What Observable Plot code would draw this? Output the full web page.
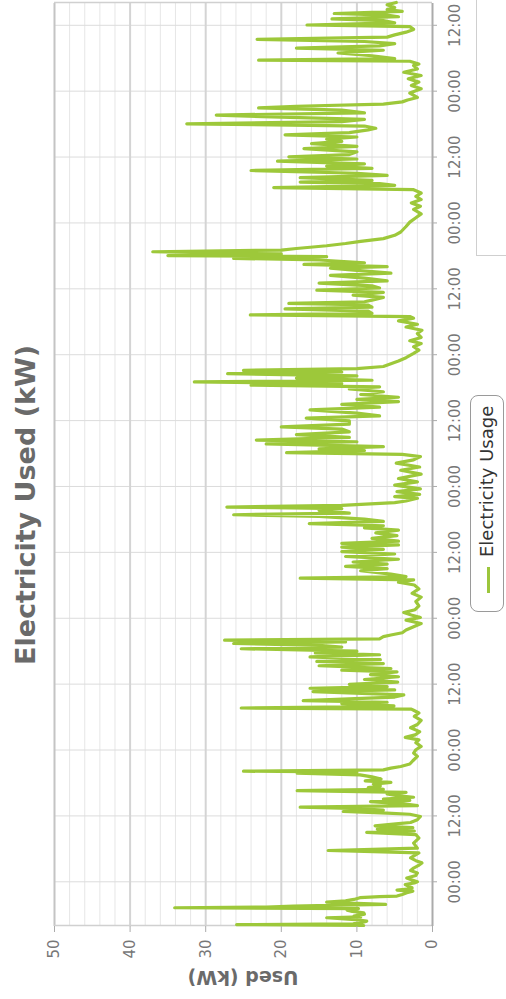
<!DOCTYPE html>
<html><head><meta charset="utf-8">
<script src="https://cdn.jsdelivr.net/npm/d3@7"></script>
<script src="https://cdn.jsdelivr.net/npm/@observablehq/plot@0.6"></script>
<style>
html,body{margin:0;padding:0;background:#fff;overflow:hidden;width:506px;height:999px;}
#frame{position:absolute;left:0;top:0;width:999px;height:506px;transform-origin:0 0;transform:translate(0px,999px) rotate(-90deg);font-family:"DejaVu Sans",sans-serif;overflow:hidden;background:#fff;}
#chart{position:absolute;left:0;top:0;}
#title{position:absolute;left:0;width:988px;top:12px;line-height:27px;text-align:center;font-weight:bold;font-size:27px;color:#6a6a6a;white-space:nowrap;}
#ylabel{position:absolute;left:21px;top:243px;transform:translate(-50%,-50%) rotate(-90deg);font-weight:bold;font-size:19px;color:#6a6a6a;white-space:nowrap;}
#legend{position:absolute;left:387px;top:470px;width:217px;height:34px;box-sizing:border-box;border:1.5px solid #9a9a9a;border-radius:8px;background:#fff;}
#legend .sw{position:absolute;left:18px;top:16px;width:26px;height:3px;background:#9cc63c;}
#legend .lt{position:absolute;left:54px;top:0;line-height:31px;font-size:18px;color:#333;white-space:nowrap;}
#box{position:absolute;left:743px;top:476px;width:400px;height:100px;border:1px solid #cfcfcf;}
</style></head><body>
<div id="frame">
  <div id="chart"></div>
  <div id="title">Electricity Used (kW)</div>
  <div id="ylabel">Used (kW)</div>
  <div id="legend"><span class="sw"></span><span class="lt" id="legendText"></span></div>
  <div id="box"></div>
</div>
<script>
// Hours after the first midnight shown on the axis, and electricity used (kW)
const seriesName = "Electricity Usage";
const firstMidnight = Date.UTC(2013, 2, 4);
const seg0 = [[-7.96,9.1],[-7.8,25.9],[-7.65,10.5],[-7.4,9.3],[-7.17,8.7],[-6.9,10.2],[-6.55,14.0],[-6.4,9.5],[-6.25,10.4],[-5.9,9.0],[-5.64,9.1],[-5.4,10.6],[-5.16,11.3],[-4.9,9.8],[-4.73,34.1],[-4.6,22],[-4.43,18.4],[-4.25,12],[-4.12,6.2],[-3.9,11],[-3.7,14],[-3.45,11.5],[-3.21,10.4],[-2.9,9.6],[-2.7,7],[-2.6,4.7],[-2.3,4.0],[-2.0,3.4],[-1.7,2.6],[-1.5,4.7],[-1.3,3.0],[-1.1,2.7],[-0.8,3.2],[-0.5,3.6],[-0.2,2.4],[0.0,2.0],[0.35,2.8],[0.7,3.4],[1.15,2.2],[1.6,2.0],[2.05,2.9],[2.5,2.5],[2.95,1.9],[3.45,1.4],[3.85,2.2],[4.35,2.9],[4.85,2.3],[5.25,1.8]];
const seg1 = [[5.7,13.8],[6.13,2.0],[7.05,2.5],[7.97,1.8],[8.58,2.2],[9.0,8.7],[9.25,2.4],[9.6,7.3],[9.85,2.6],[10.2,7.6],[10.58,4.5],[10.8,2.9],[11.3,2.0],[11.9,1.6],[12.3,3.0],[12.5,6.0],[12.8,11.8],[13.07,6.5],[13.3,9.5],[13.6,17.5],[13.87,2.0],[14.2,3.8],[14.6,8.2],[14.84,3.0],[15.08,6.5],[15.4,2.5],[15.7,4.7],[16.0,6.0],[16.3,3.5],[16.6,17.9],[16.85,6.5],[17.16,8.5],[17.46,6.9],[17.77,7.8],[18.1,5.5],[18.37,8.9],[18.73,6.8],[19.1,8.0],[19.47,9.6],[19.77,17.9],[19.95,10],[20.15,25.0],[20.39,6.5],[20.7,5.5],[21.0,4.2],[21.45,3.0],[22.05,2.6],[22.85,2.0],[23.45,2.5],[24.05,2.2],[24.65,1.5],[25.35,2.2],[25.85,1.8],[26.3,3.6],[26.75,2.3],[27.35,1.7],[28.05,2.9],[28.65,2.0],[29.4,1.5],[30.15,2.4],[30.75,1.8],[31.25,2.5],[31.45,2.8],[31.65,25.3],[31.9,8],[32.05,5.1],[32.45,12],[32.7,6],[33.0,17.1]];
const seg2 = [[33.65,5.0],[34.05,3.8],[34.65,15.8],[34.95,5.0],[35.25,16.2],[35.55,6],[35.95,11],[36.35,4.6],[36.85,9],[37.35,4.5],[37.75,8.2],[38.25,4.7],[38.55,12],[38.85,5.5],[39.35,15],[39.75,6.5],[40.15,15.3],[40.45,6.9],[40.95,16.2],[41.35,7],[41.7,15.5],[42.0,10],[42.45,25.3],[42.75,12],[43.05,15],[43.4,26.3],[43.7,11.5],[44.0,27.5],[44.25,7],[44.65,6.5],[44.95,5.5],[45.35,4.0],[45.85,3.5],[46.45,2.5],[47.05,1.5],[47.65,3.5],[48.15,1.6],[48.6,2.8],[49.05,3.8],[49.55,2.3],[50.25,1.8],[51.05,2.2],[51.85,1.5],[52.55,2.7],[53.35,1.8],[54.05,2.4],[54.55,4.5],[55.0,2.5],[55.3,17.5],[55.6,3.5],[56.05,5.5],[56.65,9.5],[57.05,6.0],[57.45,11.5],[57.85,6.0],[58.25,10.5],[58.75,4.5],[59.25,11.5],[59.7,5],[60.15,12],[60.55,6.5],[60.95,12.0],[61.35,4.5],[61.65,12.0],[62.05,4.5],[62.55,8],[63.05,4.7],[63.55,7.5],[64.05,4.5],[64.45,9],[64.85,6.5],[65.25,16.3],[65.65,6.5],[66.05,9],[66.55,15],[66.85,26.3],[67.15,11],[67.65,15],[67.95,12],[68.25,27.2],[68.55,12],[69.05,5],[69.35,3.5]];
const seg3 = [[69.85,2.0],[70.15,5.0],[70.55,1.7],[71.05,4.7],[71.55,1.6],[72.25,5.0],[72.85,2.0],[73.45,4.5],[74.25,1.5],[74.95,4.2],[75.55,1.7],[76.25,4.8],[76.85,2.5],[77.45,1.6],[77.85,4],[78.15,19.3],[78.55,9],[78.85,15],[79.25,6.5],[79.75,22],[80.15,10],[80.45,23.3],[80.95,11],[81.45,18],[81.95,11],[82.45,12],[82.85,20],[83.35,11],[83.95,11],[84.45,16.7],[84.85,7],[85.35,10],[85.95,16.2],[86.45,7],[86.95,12],[87.45,4.5],[87.85,10],[88.25,4.5],[88.75,9.5],[89.25,6.5],[89.75,11],[90.15,7],[90.45,24],[90.75,12],[91.05,31.5],[91.35,8],[91.75,18],[92.15,10],[92.55,27.1],[92.85,12],[93.15,25],[93.45,10],[93.85,6.5],[94.35,5.5],[94.85,4.5],[95.45,3.5],[96.25,2.5],[96.85,1.8],[97.45,2.5],[98.05,1.5],[98.55,3.0],[99.15,1.5],[99.85,2.0],[100.45,1.4],[101.05,3.5],[101.55,2.0],[102.15,4.5],[102.65,2.5],[102.95,3],[103.25,24.1],[103.55,8],[103.95,8.5],[104.35,19.5],[104.65,8],[105.05,8.5],[105.35,19.0],[105.65,9],[105.95,8]];
const seg4 = [[106.45,6.5],[106.85,10.5],[107.35,6.5],[107.75,15.3],[108.15,7],[108.55,8],[109.05,15.0],[109.45,6],[109.95,9],[110.45,13.5],[110.85,5.5],[111.35,10],[111.75,13.5],[112.05,6],[112.45,17],[112.75,9],[113.25,15],[113.55,26.3],[113.85,14],[114.05,35],[114.35,20],[114.75,37],[115.05,20],[115.35,18],[115.85,14],[116.25,11.5],[116.65,9.5],[117.15,6.5],[117.75,5],[118.35,4.2],[119.35,3.5],[120.15,3.0],[120.95,2.2],[121.65,1.5],[122.45,2.5],[123.05,1.6],[123.65,2.8],[124.25,1.5],[124.85,2.2],[125.45,1.5],[126.05,2.5],[126.45,21],[126.85,5],[127.15,7],[127.45,17.5],[127.75,8],[128.25,17.5],[128.65,6],[129.05,10],[129.55,24],[129.95,8],[130.35,14],[130.75,9],[131.25,20.5],[131.65,10],[132.05,19],[132.45,11],[132.95,10],[133.55,17],[133.95,10],[134.45,16],[134.85,12],[135.25,14],[135.65,10],[136.05,19.5],[136.45,11],[136.95,8.5],[137.25,7.5],[137.65,9],[138.05,32.5],[138.45,12],[138.85,9],[139.35,22.5],[139.65,28.6],[140.05,9],[140.55,12],[140.95,23],[141.25,18],[141.65,6.5],[142.05,4],[142.4,3.3]];
const seg5 = [[142.85,2.0],[143.65,3.0],[144.45,1.5],[145.05,2.8],[145.65,1.8],[146.25,3.2],[146.85,1.5],[147.45,3.8],[148.05,2.0],[148.65,2.5],[148.95,1.8],[149.45,3.0],[149.65,23],[149.95,5],[150.45,8],[150.95,12.5],[151.45,6.5],[151.85,18],[152.25,7],[152.65,5],[153.05,9],[153.45,23.2],[153.85,6],[154.25,5],[154.75,3.5],[155.25,2.5],[155.75,3],[156.05,16.6],[156.45,5],[156.85,6.5],[157.15,13.3],[157.55,4.5],[157.85,6],[158.15,13.0],[158.55,4],[158.85,6],[159.25,5],[159.75,6.0],[160.15,4.8]];

const tickHours = [0,12,24,36,48,60,72,84,96,108,120,132,144,156];
const tickLabels = ["00:00","12:00","00:00","12:00","00:00","12:00","00:00","12:00","00:00","12:00","00:00","12:00","00:00","12:00"];
const valueTicks = [0,10,20,30,40,50];
const minorValues = [2,4,6,8,12,14,16,18,22,24,26,28,32,34,36,38,42,44,46,48];

const toDate = h => new Date(firstMidnight + h * 3600e3);
const data = [...seg0, ...seg1, ...seg2, ...seg3, ...seg4, ...seg5].map(([h, kw]) => ({time: toDate(h), kw}));
const tickDates = tickHours.map(toDate);
const t0 = data[0].time, t1 = data[data.length - 1].time;

document.getElementById("legendText").textContent = seriesName;

const chart = Plot.plot({
  width: 999, height: 506,
  marginLeft: 73, marginRight: 3, marginTop: 54, marginBottom: 74,
  style: {fontFamily: "DejaVu Sans, sans-serif", fontSize: "15px", color: "#777", background: "transparent", overflow: "visible"},
  x: {type: "utc", domain: [t0, t1]},
  y: {domain: [0, 50]},
  marks: [
    Plot.ruleY(minorValues, {stroke: "#e6e6e6", strokeWidth: 1}),
    Plot.ruleX(tickDates, {stroke: "#dcdcdc", strokeWidth: 1}),
    Plot.ruleY([10, 20, 30, 40], {stroke: "#d4d4d4", strokeWidth: 2}),
    Plot.ruleY([50], {stroke: "#c4c4c4", strokeWidth: 2}),
    Plot.ruleX([t0, t1], {stroke: "#d0d0d0", strokeWidth: 1.5}),
    Plot.line(data, {x: "time", y: "kw", stroke: "#9dc83a", strokeWidth: 3.2, strokeLinejoin: "round", curve: "linear"}),
    Plot.ruleY([0], {stroke: "#ababab", strokeWidth: 2}),
    Plot.axisX({ticks: tickDates, tickFormat: d => tickLabels[tickDates.findIndex(t => +t === +d)], tickSize: 5, tickPadding: 12, stroke: "#ababab", fill: "#777", fontSize: 15, label: null}),
    Plot.axisY({ticks: valueTicks, tickSize: 6, tickPadding: 8, stroke: "#ababab", fill: "#777", fontSize: 15, label: null})
  ]
});
document.getElementById("chart").appendChild(chart);
</script>
</body></html>
